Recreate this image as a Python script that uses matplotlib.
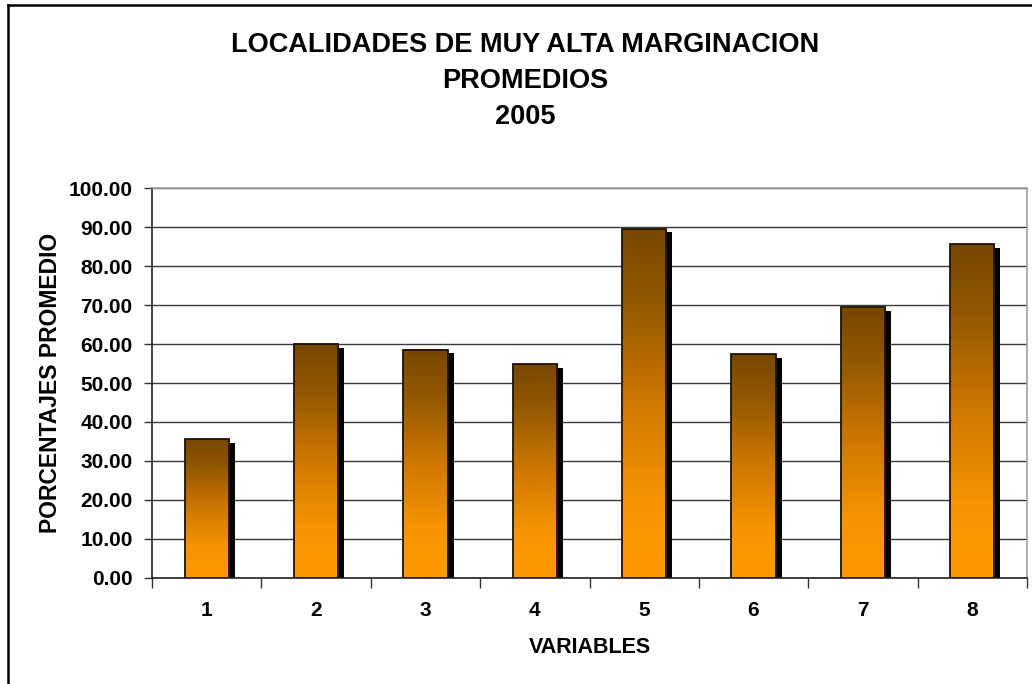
import numpy as np
import matplotlib
matplotlib.use("Agg")
import matplotlib.pyplot as plt
from matplotlib.colors import LinearSegmentedColormap
from matplotlib.lines import Line2D

plt.rcParams['font.family'] = ['Liberation Sans', 'DejaVu Sans']
plt.rcParams['font.weight'] = 'bold'

# data
variables = ['1', '2', '3', '4', '5', '6', '7', '8']
promedios = [35.5, 59.9, 58.6, 54.8, 89.6, 57.4, 69.4, 85.6]
yticks = [0, 10, 20, 30, 40, 50, 60, 70, 80, 90, 100]

fig = plt.figure(figsize=(10.32, 6.84), dpi=100)
ax = fig.add_axes([152/1032, 1 - 577.7/684, (1027 - 152)/1032, (577.7 - 188.3)/684])

# brown -> orange gradient (bottom to top is orange to brown)
cmap = LinearSegmentedColormap.from_list(
    'bar', [(0.0, '#FF9900'), (0.22, '#F69400'), (0.5, '#CF7800'),
            (0.8, '#925800'), (1.0, '#774700')])
grad = np.linspace(0, 1, 256).reshape(-1, 1)

x = np.arange(1, len(variables) + 1)
w = 0.405

# shadows
ax.bar(x + 0.055, np.array(promedios) - 0.9, w, color='black', zorder=2)

for xi, v in zip(x, promedios):
    ax.imshow(grad, extent=[xi - w/2, xi + w/2, 0, v], origin='lower',
              aspect='auto', cmap=cmap, zorder=3, interpolation='bilinear')
ax.bar(x, promedios, w, fill=False, edgecolor='#1e1200', linewidth=1.3, zorder=4)

ax.set_xlim(0.5, 8.5)
ax.set_ylim(0, 100)
ax.set_yticks(yticks)
ax.set_yticklabels(['%.2f' % t for t in yticks], fontsize=15, fontweight='bold')
ax.set_xticks(x)
ax.set_xticklabels(variables, fontsize=15, fontweight='bold')
ax.set_xticks(np.arange(0.5, 9.0, 1.0), minor=True)
ax.tick_params(axis='x', which='major', length=0, pad=17)
ax.tick_params(axis='x', which='minor', length=7, width=1, direction='out', color='#333333')
ax.tick_params(axis='y', length=6, width=1, direction='out', pad=8, color='#333333')

ax.yaxis.grid(True, color='#3a3a3a', linewidth=1, zorder=1)
ax.set_axisbelow(True)
ax.spines['left'].set_color('#222222')
ax.spines['bottom'].set_color('#222222')
ax.spines['top'].set_color('#a0a0a0')
ax.spines['right'].set_color('#a0a0a0')
for s in ax.spines.values():
    s.set_linewidth(1.2)

ax.set_xlabel('VARIABLES', fontsize=15.5, fontweight='bold', labelpad=12)
ax.set_ylabel('PORCENTAJES PROMEDIO', fontsize=16.5, fontweight='bold', labelpad=5)

fig.text(525/1032, 1 - 45/684, 'LOCALIDADES DE MUY ALTA MARGINACION', ha='center', va='center',
         fontsize=19.5, fontweight='bold')
fig.text(525/1032, 1 - 81/684, 'PROMEDIOS', ha='center', va='center', fontsize=19.5, fontweight='bold')
fig.text(525/1032, 1 - 117/684, '2005', ha='center', va='center', fontsize=19.5, fontweight='bold')

# chart area border (left and top visible)
fig.add_artist(Line2D([8/1032, 8/1032], [0, 1 - 5/684], transform=fig.transFigure,
                      color='black', linewidth=1.8))
fig.add_artist(Line2D([8/1032, 1], [1 - 5/684, 1 - 5/684], transform=fig.transFigure,
                      color='black', linewidth=1.8))

fig.savefig('out.png', dpi=100, facecolor='white')
